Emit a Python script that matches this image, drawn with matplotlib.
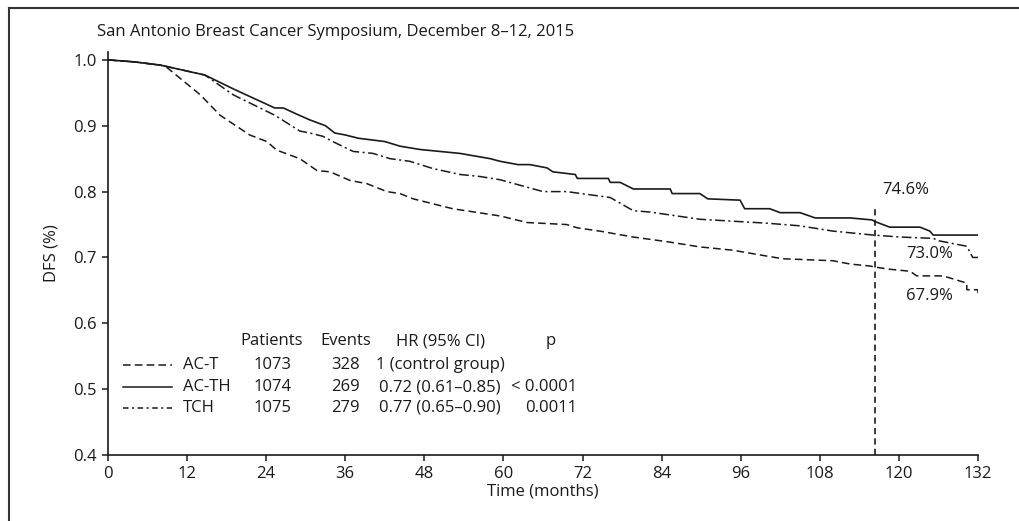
import numpy as np
import matplotlib
matplotlib.use("Agg")
import matplotlib.pyplot as plt
from matplotlib.lines import Line2D

plt.rcParams['font.family'] = ['Open Sans', 'DejaVu Sans']
plt.rcParams['lines.scale_dashes'] = False

# curvas de supervivencia libre de enfermedad
t_acth = [0, 4, 8, 14.7, 19, 25.3, 26.6, 29, 30.6, 33, 34.4, 36, 38, 42, 44.3, 47.3, 53.4,
          58, 59.5, 62.2, 64, 66.6, 67.5, 70.9, 71.2, 75.9, 76.2, 77.7, 79.7, 85.3, 85.6,
          89.8, 91, 95.9, 96.6, 100.4, 102, 105, 107.3, 112.6, 115.9, 116.5, 118.6, 123.2,
          124.7, 125.2, 132]
s_acth = [1.0, 0.997, 0.992, 0.977, 0.956, 0.927, 0.927, 0.916, 0.909, 0.900, 0.889, 0.886,
          0.881, 0.876, 0.869, 0.864, 0.858, 0.850, 0.846, 0.841, 0.841, 0.836, 0.830, 0.826,
          0.820, 0.820, 0.814, 0.814, 0.804, 0.804, 0.797, 0.797, 0.789, 0.787, 0.774, 0.774,
          0.768, 0.768, 0.760, 0.760, 0.757, 0.754, 0.746, 0.746, 0.740, 0.734, 0.734]

t_tch = [0, 4, 8, 14.7, 19, 25.3, 29.1, 30.6, 32.6, 34.1, 37.2, 40.2, 42.8, 45.8, 49.3,
         53.4, 56.4, 59.5, 66, 69.6, 76.2, 79.7, 82.2, 89.8, 100, 105, 110, 116.1, 120.2,
         125.2, 126.2, 130.3, 131.2, 132]
s_tch = [1.0, 0.997, 0.992, 0.977, 0.947, 0.916, 0.892, 0.889, 0.884, 0.876, 0.861, 0.858,
         0.850, 0.846, 0.835, 0.826, 0.823, 0.818, 0.800, 0.800, 0.791, 0.771, 0.769, 0.758,
         0.752, 0.748, 0.740, 0.734, 0.731, 0.729, 0.725, 0.717, 0.700, 0.700]

t_act = [0, 4, 8, 9, 14.0, 17.0, 20.0, 21.5, 24.1, 25.6, 29.1, 31.7, 33.7, 36.7, 39.3, 42.3,
         44.3, 46.3, 52.3, 59.5, 63.6, 69.6, 71.2, 74.6, 79.7, 84.8, 89.8, 94.8, 100, 102.4,
         110, 112.6, 115.6, 116.6, 118.7, 121.7, 122.7, 126.7, 130.3, 130.3, 131.8, 132, 132]
s_act = [1.0, 0.997, 0.992, 0.988, 0.947, 0.916, 0.896, 0.886, 0.876, 0.863, 0.850, 0.832,
         0.830, 0.817, 0.812, 0.800, 0.797, 0.789, 0.774, 0.763, 0.753, 0.750, 0.745, 0.740,
         0.731, 0.724, 0.716, 0.711, 0.702, 0.698, 0.695, 0.690, 0.687, 0.685, 0.682, 0.679,
         0.672, 0.672, 0.661, 0.651, 0.651, 0.651, 0.641]

grupos = ['AC-T', 'AC-TH', 'TCH']
pacientes = ['1073', '1074', '1075']
eventos = ['328', '269', '279']
hr = ['1 (control group)', '0.72 (0.61\u20130.85)', '0.77 (0.65\u20130.90)']
p_valores = ['', '< 0.0001', '0.0011']

t_corte = 116.4
etiquetas = ['74.6%', '73.0%', '67.9%']
etiqueta_t = [117.4, 121.1, 121.1]
etiqueta_y = [0.803, 0.705, 0.642]

xticks = np.arange(0, 133, 12)
yticks = [0.4, 0.5, 0.6, 0.7, 0.8, 0.9, 1.0]

color = '#1a1a1a'
fs = 12
dash = (0, (5.5, 3.0))
dashdot = (0, (7.0, 2.5, 1.5, 2.5))

fig = plt.figure(figsize=(10.19, 5.21), dpi=100)
ax = fig.add_axes([108 / 1019, 1 - 455 / 521, 870 / 1019, (455 - 52) / 521])

ax.plot(t_act, s_act, color=color, lw=1.1, linestyle=dash)
ax.plot(t_acth, s_acth, color=color, lw=1.2, linestyle='-')
ax.plot(t_tch, s_tch, color=color, lw=1.1, linestyle=dashdot)
ax.plot([t_corte, t_corte], [0.4, 0.779], color=color, lw=1.2, linestyle=(0, (4.5, 3.0)))

for txt, tx, ty in zip(etiquetas, etiqueta_t, etiqueta_y):
    ax.text(tx, ty, txt, fontsize=fs, color=color, va='center', ha='left')

ax.set_xlim(0, 132)
ax.set_ylim(0.4, 1.012)
ax.set_xticks(xticks)
ax.set_yticks(yticks)
ax.set_yticklabels([f'{v:.1f}' for v in yticks])
ax.spines['top'].set_visible(False)
ax.spines['right'].set_visible(False)
for s in ['left', 'bottom']:
    ax.spines[s].set_linewidth(1.2)
    ax.spines[s].set_color(color)
ax.spines['left'].set_bounds(0.4, 1.012)
ax.tick_params(direction='out', length=4, width=1.1, color=color, labelsize=fs,
               labelcolor=color, pad=4)
ax.set_xlabel('Time (months)', fontsize=fs, color=color, labelpad=1)
ax.set_ylabel('DFS (%)', fontsize=fs, color=color, labelpad=10)

# tabla dentro del grafico
y_cab = 0.5725
y_filas = [0.536, 0.503, 0.472]
estilos = [dash, '-', (0, (4.0, 2.5, 1.5, 2.5))]
ax.text(24.9, y_cab, 'Patients', fontsize=fs, color=color, ha='center', va='center')
ax.text(36.0, y_cab, 'Events', fontsize=fs, color=color, ha='center', va='center')
ax.text(50.4, y_cab, 'HR (95% CI)', fontsize=fs, color=color, ha='center', va='center')
ax.text(67.1, y_cab, 'p', fontsize=fs, color=color, ha='center', va='center')
for i in range(3):
    y = y_filas[i]
    ax.plot([2.3, 9.7], [y, y], color=color, lw=1.1, linestyle=estilos[i])
    ax.text(11.4, y, grupos[i], fontsize=fs, color=color, ha='left', va='center')
    ax.text(24.9, y, pacientes[i], fontsize=fs, color=color, ha='center', va='center')
    ax.text(36.0, y, eventos[i], fontsize=fs, color=color, ha='center', va='center')
    ax.text(50.4, y, hr[i], fontsize=fs, color=color, ha='center', va='center')
    ax.text(71.2, y, p_valores[i], fontsize=fs, color=color, ha='right', va='center')

fig.text(97 / 1019, 1 - 32 / 521, 'San Antonio Breast Cancer Symposium, December 8\u201312, 2015',
         fontsize=fs, color=color, ha='left', va='center')

# marco de la figura
fig.add_artist(Line2D([9 / 1019, 9 / 1019], [0, 1 - 8 / 521], transform=fig.transFigure,
                      color='#333333', lw=1.5))
fig.add_artist(Line2D([9 / 1019, 1], [1 - 8 / 521, 1 - 8 / 521], transform=fig.transFigure,
                      color='#333333', lw=1.5))

fig.savefig('out.png', dpi=100)
